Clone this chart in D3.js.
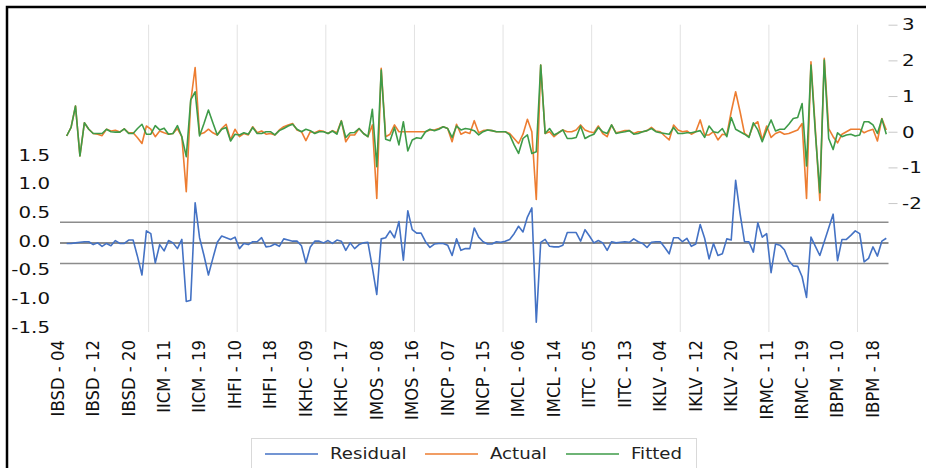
<!DOCTYPE html>
<html>
<head>
<meta charset="utf-8">
<script src="https://cdn.jsdelivr.net/npm/d3@7"></script>
<style>
  body { margin: 0; background: #fff; }
  text { font-family: "DejaVu Sans", Verdana, sans-serif; }
</style>
</head>
<body>
<div id="chart"></div>
<script>
// companies and periods of the panel (17 periods each, 04..20)
var companies = ["IBSD", "IICM", "IHFI", "IKHC", "IMOS", "INCP", "IMCL", "IITC", "IKLV", "IRMC", "IBPM"];
var periods = d3.range(4, 21);
var categories = [];
companies.forEach(function(c) {
  periods.forEach(function(p) { categories.push(c + " - " + (p < 10 ? "0" + p : p)); });
});

var actual = [null,
  -0.12, 0.12, 0.72, -0.68, 0.25, 0.07, -0.05, -0.07, -0.11, 0.07,
  0.02, 0.04, -0.01, 0.08, -0.03, -0.03, -0.17, -0.33, 0.16, 0.07,
  -0.14, 0.02, -0.03, -0.07, -0.05, 0.09, -0.14, -1.68, 0.84, 1.80,
  -0.07, -0.03, 0.07, -0.03, -0.09, 0.09, 0.21, -0.23, 0.07, -0.14,
  -0.05, -0.09, 0.14, -0.03, 0.02, -0.07, -0.05, -0.09, 0.05, 0.14,
  0.19, 0.23, 0.05, 0.00, -0.25, 0.00, -0.03, 0.03, 0.01, -0.05,
  0.03, -0.03, 0.31, -0.28, -0.09, -0.09, 0.09, -0.05, -0.14, 0.19,
  -1.87, 1.78, -0.14, -0.07, 0.19, 0.00, 0.00, 0.00, 0.00, 0.00,
  0.00, 0.00, 0.05, 0.05, 0.09, 0.14, 0.09, -0.28, 0.21, -0.07,
  -0.01, -0.05, 0.31, -0.03, 0.03, 0.05, 0.03, 0.00, 0.00, 0.00,
  -0.05, -0.19, -0.33, -0.07, 0.35, 0.00, -1.90, 1.87, -0.05, 0.00,
  -0.14, -0.03, 0.05, 0.00, 0.00, 0.05, 0.19, 0.05, 0.00, -0.03,
  0.16, -0.05, -0.14, 0.19, -0.03, 0.00, 0.03, 0.03, -0.05, 0.00,
  0.00, 0.03, 0.12, 0.02, 0.00, -0.12, -0.23, 0.19, 0.05, 0.00,
  0.02, -0.07, 0.00, 0.33, -0.09, -0.09, 0.00, -0.23, -0.07, -0.09,
  0.56, 1.12, 0.56, -0.05, -0.14, 0.19, 0.28, -0.23, 0.16, -0.16,
  -0.05, 0.00, -0.07, -0.05, 0.00, 0.05, 0.23, -1.87, 1.96, 0.05,
  -1.93, 2.06, 0.09, -0.14, -0.31, -0.07, 0.00, 0.07, 0.07, 0.07,
  -0.03, 0.03, 0.07, -0.26, 0.37, 0.05];

var fitted = [null,
  -0.12, 0.12, 0.72, -0.68, 0.25, 0.07, -0.05, -0.05, -0.05, 0.07,
  0.00, -0.01, -0.01, 0.08, -0.05, -0.05, 0.09, 0.21, -0.07, -0.07,
  0.17, 0.05, 0.10, -0.07, -0.05, 0.17, -0.14, -0.70, 0.89, 1.12,
  -0.12, 0.23, 0.61, 0.25, -0.09, 0.07, 0.12, -0.26, -0.07, -0.09,
  -0.03, -0.07, 0.12, -0.05, -0.05, 0.00, 0.00, -0.09, 0.03, 0.09,
  0.16, 0.21, 0.07, 0.00, 0.07, 0.03, -0.05, 0.00, 0.00, -0.05,
  0.02, -0.07, 0.30, -0.16, -0.03, -0.02, 0.09, -0.05, -0.14, 0.63,
  -0.98, 1.73, -0.21, -0.25, 0.12, -0.37, 0.28, -0.54, -0.23, -0.17,
  -0.19, 0.00, 0.07, 0.03, 0.07, 0.14, 0.09, -0.16, 0.16, 0.05,
  0.09, 0.07, 0.03, -0.09, 0.00, 0.05, 0.03, 0.00, 0.00, 0.00,
  -0.09, -0.37, -0.61, -0.19, -0.09, -0.61, -0.56, 1.87, -0.05, 0.09,
  -0.09, -0.03, 0.05, -0.19, -0.19, -0.16, 0.16, -0.19, -0.12, -0.07,
  0.12, 0.00, -0.05, 0.19, -0.05, -0.02, 0.00, 0.03, -0.07, -0.05,
  0.00, 0.03, 0.09, 0.00, -0.03, -0.05, -0.07, 0.12, -0.05, -0.05,
  -0.03, -0.03, 0.00, 0.03, -0.16, 0.16, 0.00, -0.03, 0.09, -0.14,
  0.40, 0.07, 0.00, -0.07, -0.16, 0.25, 0.05, -0.28, 0.05, 0.33,
  0.02, 0.07, 0.07, 0.21, 0.37, 0.40, 0.79, -0.96, 1.87, -0.05,
  -1.71, 2.01, -0.19, -0.50, -0.03, -0.14, -0.09, -0.07, -0.12, -0.09,
  0.28, 0.28, 0.19, -0.05, 0.36, -0.07];

var residual = [null,
  -0.01, -0.01, 0.00, 0.01, 0.02, 0.02, -0.03, 0.00, -0.06, -0.01,
  -0.05, 0.04, -0.01, -0.01, 0.05, 0.05, -0.24, -0.56, 0.21, 0.16,
  -0.35, -0.03, -0.14, 0.04, 0.00, -0.10, 0.06, -1.02, -1.00, 0.70,
  0.09, -0.22, -0.56, -0.27, 0.01, 0.12, 0.09, 0.06, 0.10, -0.10,
  -0.01, -0.03, 0.02, 0.02, 0.09, -0.07, -0.06, -0.02, -0.06, 0.07,
  0.05, 0.03, 0.03, -0.05, -0.35, -0.07, 0.03, 0.03, 0.00, 0.04,
  -0.01, 0.05, 0.03, -0.13, 0.00, -0.10, -0.03, 0.00, 0.01, -0.43,
  -0.90, 0.07, 0.09, 0.21, 0.09, 0.37, -0.30, 0.56, 0.23, 0.17,
  0.17, 0.02, -0.08, -0.02, -0.01, -0.01, -0.04, -0.22, 0.07, -0.13,
  -0.10, -0.10, 0.26, 0.10, 0.02, -0.02, -0.02, 0.02, 0.01, 0.03,
  0.06, 0.16, 0.29, 0.19, 0.45, 0.61, -1.38, 0.01, 0.06, -0.06,
  -0.07, -0.07, -0.04, 0.18, 0.18, 0.18, 0.03, 0.23, 0.12, 0.00,
  0.04, 0.00, -0.13, 0.02, 0.00, 0.01, 0.02, 0.01, 0.07, 0.02,
  -0.01, -0.08, 0.01, 0.02, 0.02, -0.08, -0.19, 0.09, 0.09, 0.02,
  0.08, -0.06, -0.02, 0.32, 0.08, -0.28, -0.01, -0.22, -0.19, 0.07,
  0.05, 1.09, 0.51, 0.02, 0.02, -0.16, 0.35, 0.10, 0.16, -0.52,
  -0.02, -0.04, -0.12, -0.31, -0.40, -0.41, -0.59, -0.95, 0.10, -0.06,
  -0.22, 0.02, 0.26, 0.50, -0.31, 0.06, 0.06, 0.13, 0.21, 0.16,
  -0.33, -0.27, -0.07, -0.23, 0.03, 0.08];

// reference lines on the residual axis (0 and +/- one standard error)
var residualBands = [-0.36, 0, 0.36];
var leftTicks = [-1.5, -1.0, -0.5, 0.0, 0.5, 1.0, 1.5];
var rightTicks = [-2, -1, 0, 1, 2, 3];

var width = 926, height = 468;
var plot = {left: 60, right: 888.5, top: 24.7, bottom: 329};
var stretch = "scale(1.1,1)";     // the picture is a little wider than tall
var numStretch = "scale(1.2,1)";  // numbers look wider still

var svg = d3.select("#chart").append("svg")
    .attr("width", width)
    .attr("height", height);

svg.append("rect")
    .attr("x", 7).attr("y", 7)
    .attr("width", width + 10).attr("height", height + 10)
    .attr("fill", "#fff")
    .attr("stroke", "#000")
    .attr("stroke-width", 2.5);

var x = d3.scaleBand()
    .domain(categories)
    .range([plot.left, plot.right]);
var xc = function(i) { return x(categories[i]) + x.bandwidth() / 2; };

var yLeft = d3.scaleLinear()
    .domain([-1.5, 3.8])
    .range([plot.bottom, plot.top]);
var yRight = d3.scaleLinear()
    .domain([-5.53, 3])
    .range([plot.bottom, plot.top]);

// vertical gridlines every 20 categories
svg.append("g")
  .selectAll("line")
  .data(d3.range(20, categories.length, 20))
  .join("line")
    .attr("x1", d => x(categories[d]))
    .attr("x2", d => x(categories[d]))
    .attr("y1", plot.top)
    .attr("y2", plot.bottom + 3)
    .attr("stroke", "#e2e2e2")
    .attr("stroke-width", 1);

// residual reference lines
svg.append("g")
  .selectAll("line")
  .data(residualBands)
  .join("line")
    .attr("x1", plot.left)
    .attr("x2", plot.right)
    .attr("y1", d => yLeft(d))
    .attr("y2", d => yLeft(d))
    .attr("stroke", "#8c8c8c")
    .attr("stroke-width", d => d === 0 ? 2 : 1.5);

// left axis
var gl = svg.append("g")
    .attr("transform", "translate(50,0)")
    .call(d3.axisLeft(yLeft).tickValues(leftTicks).tickFormat(d => d.toFixed(1)).tickSize(0).tickPadding(0));
gl.select(".domain").remove();
gl.selectAll("text")
    .attr("x", 0)
    .attr("dy", "0.32em")
    .attr("transform", "translate(0,-2) " + numStretch)
    .attr("fill", "#111")
    .style("font-size", "16.5px")
    .style("font-family", "'DejaVu Sans', Verdana, sans-serif");

// right axis
var gr = svg.append("g")
    .attr("transform", `translate(${plot.right},0)`)
    .call(d3.axisRight(yRight).tickValues(rightTicks).tickFormat(d3.format("d")).tickSize(9));
gr.select(".domain").remove();
gr.selectAll("line").attr("stroke", "#c8c8c8");
gr.selectAll("text")
    .attr("x", 0)
    .attr("dy", "0.32em")
    .attr("transform", "translate(13.5,0) " + numStretch)
    .attr("fill", "#111")
    .text(d => String(d))
    .style("font-size", "16.5px")
    .style("font-family", "'DejaVu Sans', Verdana, sans-serif");

// category axis, every 8th label
var gx = svg.append("g")
    .attr("transform", `translate(0,${plot.bottom})`)
    .call(d3.axisBottom(x).tickValues(categories.filter((d, i) => i % 8 === 0)).tickSize(0));
gx.select(".domain").remove();
gx.selectAll("text")
    .attr("x", 0).attr("y", 0).attr("dy", 0)
    .attr("transform", "translate(1.5,11) " + stretch + " rotate(-90)")
    .style("text-anchor", "end")
    .attr("fill", "#111")
    .style("font-size", "16.5px")
    .style("font-family", "'DejaVu Sans', Verdana, sans-serif");

// series
var colors = {Residual: "#4472C4", Actual: "#ED7D31", Fitted: "#3E9B48"};
var lineLeft = d3.line().defined(d => d != null).x((d, i) => xc(i)).y(d => yLeft(d));
var lineRight = d3.line().defined(d => d != null).x((d, i) => xc(i)).y(d => yRight(d));

svg.append("path").datum(residual)
    .attr("d", lineLeft)
    .attr("fill", "none").attr("stroke", colors.Residual).attr("stroke-width", 1.6)
    .attr("stroke-linejoin", "round");
svg.append("path").datum(actual)
    .attr("d", lineRight)
    .attr("fill", "none").attr("stroke", colors.Actual).attr("stroke-width", 1.6)
    .attr("stroke-linejoin", "round");
svg.append("path").datum(fitted)
    .attr("d", lineRight)
    .attr("fill", "none").attr("stroke", colors.Fitted).attr("stroke-width", 1.6)
    .attr("stroke-linejoin", "round");

// legend
var legend = svg.append("g");
legend.append("rect")
    .attr("x", 251.5).attr("y", 438.5)
    .attr("width", 445).attr("height", 50)
    .attr("fill", "#fff")
    .attr("stroke", "#d9d9d9");
var items = [
  {name: "Residual", x: 265},
  {name: "Actual", x: 425},
  {name: "Fitted", x: 566}
];
var li = legend.selectAll("g.item").data(items).join("g")
    .attr("class", "item");
li.append("line")
    .attr("x1", d => d.x).attr("x2", d => d.x + 53)
    .attr("y1", 454).attr("y2", 454)
    .attr("stroke", d => colors[d.name]).attr("stroke-width", 1.6);
li.append("text")
    .attr("transform", d => `translate(${d.x + 65},458.5) ` + stretch)
    .attr("fill", "#222")
    .style("font-size", "16.5px")
    .text(d => d.name);
</script>
</body>
</html>
